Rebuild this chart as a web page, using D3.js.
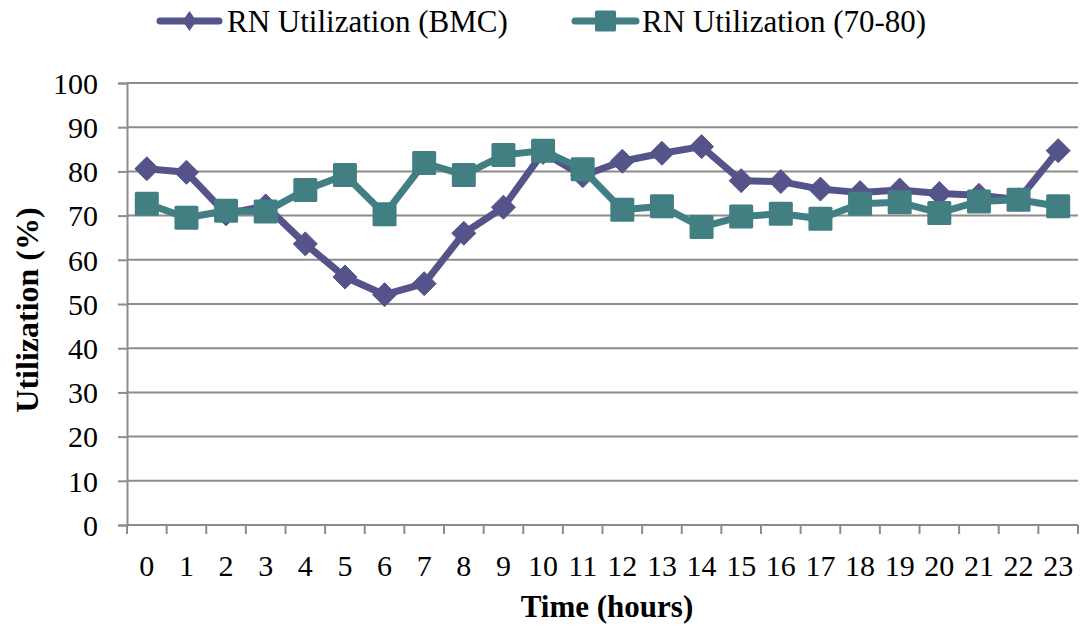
<!DOCTYPE html>
<html><head><meta charset="utf-8">
<script src="https://cdn.jsdelivr.net/npm/d3@7"></script>
<style>body{margin:0;background:#fff}svg text{font-family:"Liberation Serif","Times New Roman",serif}</style>
</head><body><svg id="c" width="1084" height="628" font-family="Liberation Serif, Times New Roman, serif"></svg>
<script>
const hours = d3.range(0,24).map(String);
const bmc = [80.6,79.8,70.4,72.2,63.6,56.1,52.1,54.6,66.0,71.9,84.3,79.0,82.3,84.1,85.6,77.9,77.7,76.0,75.2,75.8,75.0,74.6,73.6,84.7];
const band = [72.7,69.5,71.1,70.9,75.8,79.2,70.3,81.9,79.2,83.7,84.7,80.5,71.3,72.1,67.4,69.8,70.4,69.3,72.7,73.0,70.6,73.2,73.6,72.1];
const yTicks = [0,10,20,30,40,50,60,70,80,90,100];
const seriesNames = ["RN Utilization (BMC)","RN Utilization (70-80)"];
const colors = ["#55548A","#427F83"];
const FONT = "Liberation Serif, Times New Roman, serif";

const svg = d3.select("#c");
const L=127,R=1078,T=83,B=525;
const x = d3.scaleBand().domain(hours).range([L,R]);
const y = d3.scaleLinear().domain([0,100]).range([B,T]);
const grid="#8c8c8c";

// gridlines
svg.append("g").selectAll("line").data(yTicks.filter(d=>d>0)).join("line")
  .attr("x1",L).attr("x2",R).attr("y1",d=>y(d)).attr("y2",d=>y(d))
  .attr("stroke",grid).attr("stroke-width",2);

// y axis
const ya = svg.append("g").attr("transform",`translate(${L},0)`)
  .call(d3.axisLeft(y).tickValues(yTicks).tickSize(9).tickPadding(20));
ya.attr("font-family",FONT);
ya.select(".domain").attr("stroke",grid).attr("stroke-width",2);
ya.selectAll(".tick line").attr("stroke",grid).attr("stroke-width",2);
ya.selectAll(".tick text").attr("font-size",30).attr("font-family",FONT).attr("fill","#000").attr("dy","0.34em");

// x axis
const xa = svg.append("g").attr("transform",`translate(0,${B})`)
  .call(d3.axisBottom(x).tickSize(0).tickPadding(30));
xa.attr("font-family",FONT);
xa.select(".domain").attr("stroke",grid).attr("stroke-width",2).attr("d",`M${L},0H${R}`);
xa.selectAll(".tick text").attr("font-size",30).attr("font-family",FONT).attr("fill","#000").attr("dy","0.71em");
// x tick marks at band boundaries
svg.append("g").selectAll("line").data(d3.range(0,25)).join("line")
  .attr("x1",i=>L+i*x.step()).attr("x2",i=>L+i*x.step())
  .attr("y1",B).attr("y2",B+9).attr("stroke",grid).attr("stroke-width",2);

const cx = d=>x(d)+x.bandwidth()/2;
const line = d3.line().x((v,i)=>cx(hours[i])).y(v=>y(v));

// BMC series
svg.append("path").datum(bmc).attr("d",line).attr("fill","none")
  .attr("stroke",colors[0]).attr("stroke-width",7).attr("stroke-linejoin","round");
svg.append("g").selectAll("path").data(bmc).join("path")
  .attr("d",(v,i)=>{const X=cx(hours[i]),Y=y(v),s=12;return `M${X},${Y-s}L${X+s},${Y}L${X},${Y+s}L${X-s},${Y}Z`;})
  .attr("fill",colors[0]).attr("stroke",colors[0]).attr("stroke-width",1).attr("stroke-linejoin","round");

// 70-80 series
svg.append("path").datum(band).attr("d",line).attr("fill","none")
  .attr("stroke",colors[1]).attr("stroke-width",7).attr("stroke-linejoin","round");
svg.append("g").selectAll("rect").data(band).join("rect")
  .attr("x",(v,i)=>cx(hours[i])-12).attr("y",v=>y(v)-12).attr("width",24).attr("height",24).attr("rx",1.5)
  .attr("fill",colors[1]);

// legend
const lg = [{x0:157,x1:222,tx:227},{x0:572,x1:639,tx:642}];
lg.forEach((g,k)=>{
  const m=(g.x0+g.x1)/2, ly=21;
  svg.append("line").attr("x1",g.x0+3).attr("x2",g.x1-3).attr("y1",ly).attr("y2",ly)
    .attr("stroke",colors[k]).attr("stroke-width",7).attr("stroke-linecap","round");
  if(k===0){
    svg.append("path").attr("d",`M${m},${ly-10}L${m+7},${ly}L${m},${ly+10}L${m-7},${ly}Z`).attr("fill",colors[k]);
  } else {
    svg.append("rect").attr("x",m-10.5).attr("y",ly-10.5).attr("width",21).attr("height",21).attr("rx",1.5).attr("fill",colors[k]);
  }
  svg.append("text").attr("x",g.tx).attr("y",ly).attr("dy","0.35em").attr("font-size",31)
    .attr("font-family",FONT).attr("fill","#000").text(seriesNames[k]);
});

// axis titles
svg.append("text").attr("x",607).attr("y",606).attr("dy","0.35em").attr("text-anchor","middle")
  .attr("font-family",FONT).attr("font-size",31).attr("font-weight","bold").text("Time (hours)");
svg.append("text").attr("transform","translate(27,310) rotate(-90)").attr("dy","0.35em")
  .attr("font-family",FONT).attr("text-anchor","middle").attr("font-size",32).attr("font-weight","bold").text("Utilization (%)");
</script></body></html>
